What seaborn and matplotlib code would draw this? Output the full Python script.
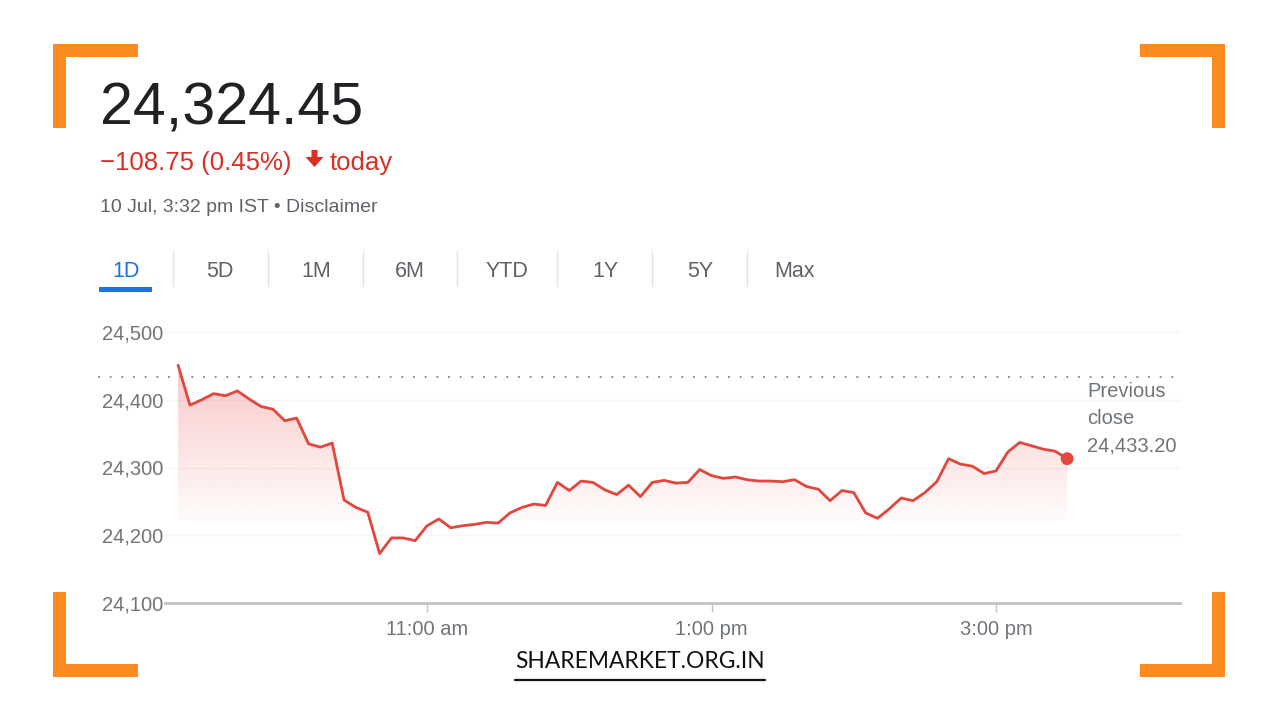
import numpy as np
import pandas as pd
import matplotlib
matplotlib.use("Agg")
import matplotlib.pyplot as plt
from matplotlib.patches import Rectangle, Polygon, FancyBboxPatch
from matplotlib.lines import Line2D
import matplotlib.colors as mcolors
import seaborn as sns

# ---------------- data ----------------
values = [24451, 24392, 24400, 24409, 24406, 24413, 24401, 24390, 24386, 24369,
          24373, 24335, 24330, 24336, 24252, 24241, 24234, 24173, 24196, 24196,
          24192, 24214, 24224, 24211, 24214, 24216, 24219, 24218, 24233, 24241,
          24246, 24244, 24278, 24266, 24280, 24278, 24267, 24260, 24274, 24257,
          24278, 24281, 24277, 24278, 24297, 24288, 24284, 24286, 24282, 24280,
          24280, 24279, 24282, 24272, 24268, 24251, 24266, 24263, 24233, 24225,
          24239, 24255, 24251, 24263, 24279, 24313, 24305, 24302, 24291, 24295,
          24323, 24337, 24332, 24327, 24324, 24313]
start_time = "09:15"
interval_minutes = 5
prev_close = 24433.20
prev_close_lines = ["Previous", "close", "24,433.20"]
last_price_text = "24,324.45"
change_text = "\u2212108.75 (0.45%)"
today_text = "today"
timestamp_text = "10 Jul, 3:32 pm IST \u2022 Disclaimer"
tabs = ["1D", "5D", "1M", "6M", "YTD", "1Y", "5Y", "Max"]
y_ticks = [24100, 24200, 24300, 24400, 24500]
x_ticks = [11, 13, 15]
x_tick_labels = ["11:00 am", "1:00 pm", "3:00 pm"]
watermark = "SHAREMARKET.ORG.IN"

times = pd.date_range(f"2024-07-10 {start_time}", periods=len(values),
                      freq=f"{interval_minutes}min")
hours = np.asarray(times.hour + times.minute / 60.0, dtype=float)
df = pd.DataFrame({"hour": hours, "price": values})

# ---------------- style ----------------
RED = "#e2463c"
RED_TXT = "#d93025"
GRAY_TXT = "#70757a"
DARK_GRAY = "#5f6368"
ORANGE = "#fd8a1e"
BLUE = "#1a73e8"

sns.set_theme(style="white")
plt.rcParams["font.family"] = ["Liberation Sans", "DejaVu Sans"]

W, H = 1280, 720
fig = plt.figure(figsize=(12.8, 7.2), dpi=100)
fig.patch.set_facecolor("white")


def fx(px):
    return px / W


def fy(py):
    return 1 - py / H


# axes geometry (pixel-based)
ax_left, ax_right, ax_bottom = 165, 1180, 603
px_per_100 = (603 - 332) / 4.0
y_top_val = 24520
ax_top = 332 - (y_top_val - 24500) / 100 * px_per_100
ax = fig.add_axes([fx(ax_left), fy(ax_bottom), (ax_right - ax_left) / W,
                   (ax_bottom - ax_top) / H])
ax.set_facecolor("none")

px_per_hour = 142.25
px_t0 = 178.1  # pixel of 9:15


def x_at(px):
    return 9.25 + (px - px_t0) / px_per_hour


xlim = (x_at(ax_left), x_at(ax_right))

# gradient fill under the line
floor = 24222
top_val = max(values)
n = 256
rgba = np.zeros((n, 1, 4))
rgba[..., :3] = mcolors.to_rgb("#e53935")
rgba[..., 3] = np.linspace(0.02, 0.28, n)[:, None]
im = ax.imshow(rgba, extent=[hours[0], hours[-1], floor, top_val], origin="lower",
               aspect="auto", zorder=2, interpolation="bilinear")
verts = [(hours[0], floor)] + list(zip(hours, np.maximum(values, floor))) + [(hours[-1], floor)]
clip = Polygon(verts, closed=True, transform=ax.transData, facecolor="none",
               edgecolor="none")
ax.add_patch(clip)
im.set_clip_path(clip)

# line
sns.lineplot(data=df, x="hour", y="price", ax=ax, color=RED, lw=2.0, zorder=4)
sns.scatterplot(x=[hours[-1]], y=[values[-1]], ax=ax, color=RED, s=85,
                edgecolor="none", zorder=5, legend=False)

# previous close dotted line
ax.plot([x_at(98), xlim[1]], [prev_close, prev_close], ls=(0, (1, 5)), lw=1.4,
        color="#8f959b", clip_on=False, zorder=3)

ax.set_xlim(*xlim)
ax.set_ylim(24100, y_top_val)
ax.set_yticks(y_ticks, labels=[f"{v:,}" for v in y_ticks])
ax.set_xticks(x_ticks, labels=x_tick_labels)
ax.set_xlabel("")
ax.set_ylabel("")
ax.yaxis.grid(True, color="#f5f5f5", lw=1)
ax.xaxis.grid(False)
ax.set_axisbelow(True)
for s in ["top", "right", "left"]:
    ax.spines[s].set_visible(False)
ax.spines["bottom"].set_color("#c2c2c2")
ax.spines["bottom"].set_linewidth(2.0)
ax.tick_params(axis="y", left=False, length=0, pad=1.5, labelsize=14.5,
               labelcolor=GRAY_TXT)
ax.tick_params(axis="x", bottom=True, length=6.5, width=1, color="#c2c2c2",
               pad=6, labelsize=14.5, labelcolor=GRAY_TXT, direction="out")

# previous close label
for i, line in enumerate(prev_close_lines):
    fig.text(fx(1087), fy(397 + 27 * i), line, fontsize=14.5, color=GRAY_TXT,
             va="baseline", ha="left")

# ---------------- header ----------------
big = fig.text(fx(100), fy(125), last_price_text, fontsize=42, color="#202124",
               va="baseline", ha="left")
fig.text(fx(100), fy(170), change_text, fontsize=18.5, color=RED_TXT,
         va="baseline", ha="left")
# down arrow icon
arrow = Polygon([(fx(311.5), fy(150)), (fx(317.5), fy(150)), (fx(317.5), fy(157)),
                 (fx(323.5), fy(157)), (fx(314.5), fy(167)), (fx(305.5), fy(157)),
                 (fx(311.5), fy(157))], closed=True, transform=fig.transFigure,
                facecolor=RED_TXT, edgecolor="none")
fig.patches.append(arrow)
fig.text(fx(330), fy(170), today_text, fontsize=18.5, color=RED_TXT,
         va="baseline", ha="left")
fig.text(fx(100), fy(212), timestamp_text, fontsize=14, color=DARK_GRAY,
         va="baseline", ha="left")

# tabs
tab_centers = [126, 220, 316, 410, 507, 605, 700, 795]
for lbl, cx in zip(tabs, tab_centers):
    fig.text(fx(cx), fy(277), lbl, fontsize=15.5,
             color=BLUE if lbl == "1D" else DARK_GRAY, ha="center", va="baseline")
for sx in [173, 268, 363, 457, 557, 652, 747]:
    fig.lines.append(Line2D([fx(sx), fx(sx)], [fy(251), fy(286)],
                            transform=fig.transFigure, color="#e3e4e6", lw=1))
fig.patches.append(Rectangle((fx(99), fy(292)), (152 - 99) / W, 5 / H,
                             transform=fig.transFigure, facecolor=BLUE,
                             edgecolor="none"))

# orange corner brackets
brackets = [
    (53, 44, 138, 57), (53, 44, 66, 128),
    (1140, 44, 1225, 57), (1212, 44, 1225, 128),
    (53, 592, 66, 677), (53, 664, 138, 677),
    (1212, 592, 1225, 677), (1140, 664, 1225, 677),
]
for x0, y0, x1, y1 in brackets:
    fig.patches.append(Rectangle((fx(x0), fy(y1)), (x1 - x0) / W, (y1 - y0) / H,
                                 transform=fig.transFigure, facecolor=ORANGE,
                                 edgecolor="none"))

# watermark
wm = fig.text(fx(640), fy(668), watermark, fontsize=18, color="#111111",
              ha="center", va="baseline", family=["Lato", "DejaVu Sans"])
fig.lines.append(Line2D([fx(515), fx(765)], [fy(680), fy(680)],
                        transform=fig.transFigure, color="#111111", lw=1.6))

# fit a couple of text widths to the reference
fig.canvas.draw()
r = fig.canvas.get_renderer()
for t, target in [(wm, 248), (big, 263)]:
    w = t.get_window_extent(renderer=r).width
    t.set_fontsize(t.get_fontsize() * target / w)

fig.savefig("out.png", dpi=100, facecolor="white")
